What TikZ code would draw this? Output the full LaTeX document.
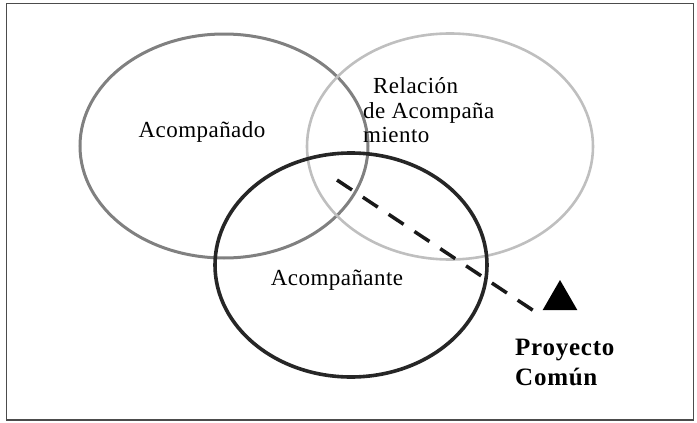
\documentclass[tikz,border=0pt]{standalone}
\usepackage{fontspec}
\setmainfont{Liberation Serif}
\newfontfamily\lblfont[LetterSpace=2]{Liberation Serif}
\newfontfamily\boldlblfont[LetterSpace=3]{Liberation Serif Bold}
\usetikzlibrary{shapes.geometric}
\begin{document}
\begin{tikzpicture}[x=1pt,y=-1pt,
  venn/.style={ellipse,inner sep=0pt},
  lbl/.style={inner sep=0pt,font=\lblfont\fontsize{23}{24}\selectfont},
  boldlbl/.style={inner sep=0pt,font=\boldlblfont\fontsize{25}{30}\selectfont}]
\useasboundingbox (0,0) rectangle (697,423);
\draw[line width=1.2pt,color=black!70] (6.5,3.5) rectangle (693.5,420);
% ellipses
\node[venn,draw=black!50,line width=3pt,minimum width=288pt,minimum height=224pt] (acdo) at (224,146) {};
\node[venn,draw=black!25,line width=2.6pt,minimum width=286pt,minimum height=226pt] (rel) at (450,146.5) {};
\node[venn,draw=black!85,line width=3.6pt,minimum width=272pt,minimum height=224pt] (acte) at (351,265) {};
% labels
\node[lbl,anchor=base] (t1) at (202,137) {Acompañado};
\node[lbl,anchor=base west] (t2a) at (373,93) {Relación};
\node[lbl,anchor=base west] (t2b) at (363,118) {de Acompaña};
\node[lbl,anchor=base west] (t2c) at (363,142) {miento};
\node[lbl,anchor=base] (t3) at (337,285) {Acompañante};
\node[boldlbl,anchor=base west] (p1) at (515,355) {Proyecto};
\node[boldlbl,anchor=base west] (p2) at (515,385) {Común};
% arrow
\node[regular polygon,regular polygon sides=3,fill=black,inner sep=0pt,minimum size=40pt] (tri) at (560,300) {};
\coordinate (start) at (337,180);
\draw[line width=3.5pt,dash pattern=on 18pt off 13pt,color=black!90] (start) -- ([xshift=-24.5,yshift=-12]tri.center);
\end{tikzpicture}
\end{document}
